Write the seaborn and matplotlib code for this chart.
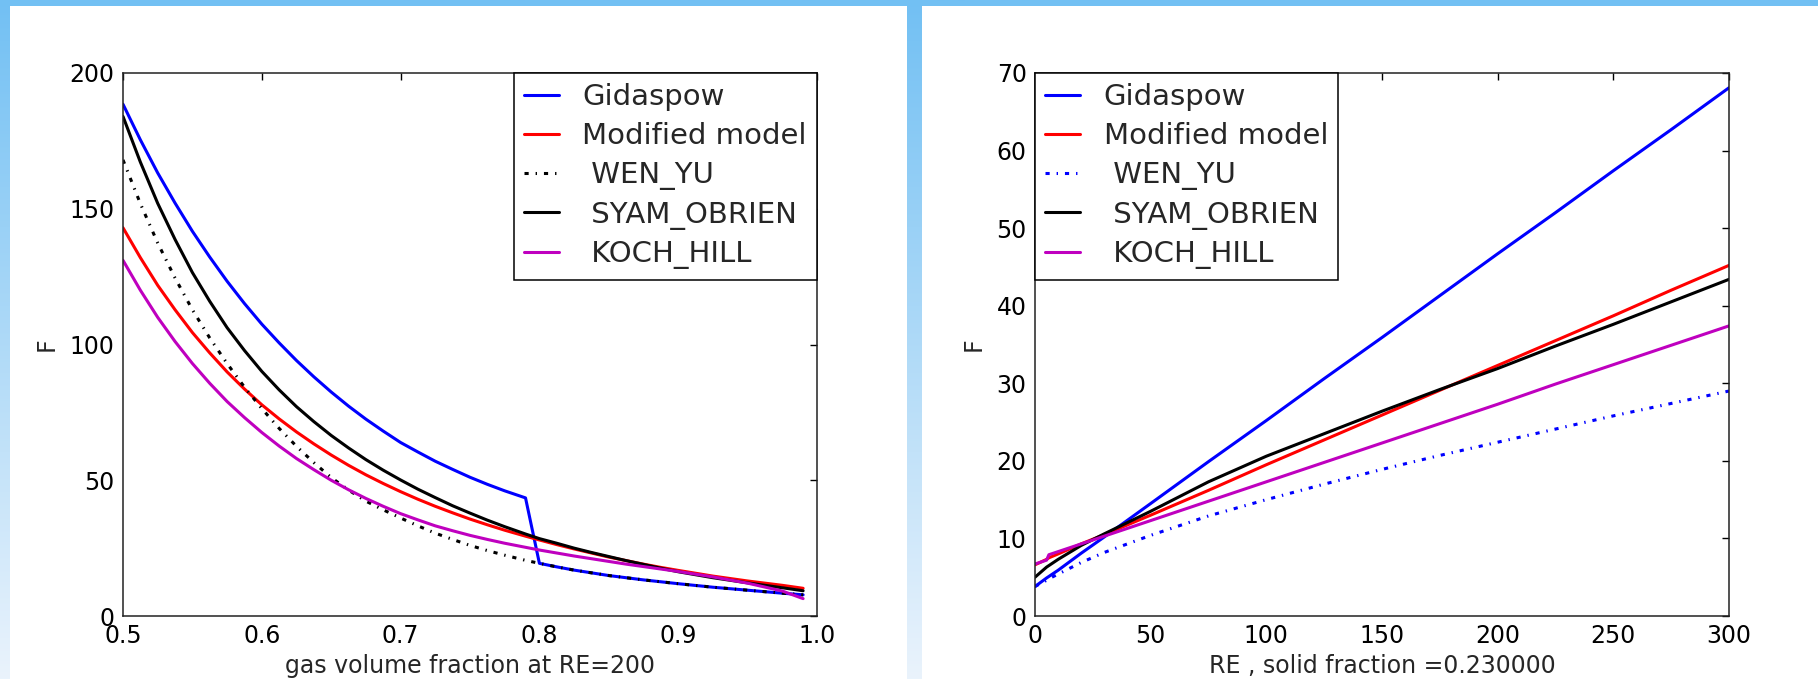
import numpy as np
import matplotlib
matplotlib.use("Agg")
import matplotlib.pyplot as plt
from matplotlib.patches import Rectangle
import seaborn as sns

# ---- left panel: F against gas volume fraction at RE=200 ----
eps = [0.5, 0.5125, 0.525, 0.5375, 0.55, 0.5625, 0.575, 0.5875, 0.6, 0.6125,
       0.625, 0.6375, 0.65, 0.6625, 0.675, 0.6875, 0.7, 0.7125, 0.725, 0.7375,
       0.75, 0.7625, 0.775, 0.79, 0.8, 0.8125, 0.825, 0.8375, 0.85, 0.8625,
       0.875, 0.8875, 0.9, 0.925, 0.95, 0.975, 0.99]
gidaspow_eps = [188.5, 175.4, 163.2, 152.1, 141.7, 132.2, 123.3, 115.1, 107.5, 100.6,
                94.1, 88.1, 82.5, 77.3, 72.5, 68.1, 63.9, 60.4, 57.0, 54.0,
                51.1, 48.5, 46.1, 43.5, 19.4, 18.1, 16.9, 15.9, 14.9, 14.1,
                13.3, 12.6, 11.9, 10.6, 9.5, 8.4, 7.8]
modified_eps = [143, 132.0, 121.8, 112.8, 104.4, 96.9, 89.9, 83.6, 77.8, 72.6,
                67.8, 63.4, 59.3, 55.5, 52.0, 48.8, 45.8, 43.0, 40.4, 38.0,
                35.7, 33.6, 31.6, 29.4, 28.0, 26.3, 24.7, 23.2, 21.7, 20.4,
                19.1, 17.9, 16.8, 14.7, 12.9, 11.3, 10.2]
wen_yu_eps = [168, 151.9, 137.4, 124.5, 112.8, 102.4, 93.0, 84.3, 76.4, 69.1,
              62.5, 56.5, 51.0, 46.4, 42.3, 39.1, 36.1, 33.2, 30.5, 28.2,
              26.0, 24.1, 22.4, 20.5, 19.4, 18.1, 16.9, 15.9, 14.9, 14.1,
              13.3, 12.6, 11.9, 10.6, 9.5, 8.4, 7.8]
syam_eps = [184, 167.2, 152.0, 138.7, 126.5, 115.9, 106.2, 97.8, 90.1, 83.3,
            77.1, 71.6, 66.5, 61.9, 57.6, 53.7, 50.1, 46.7, 43.6, 40.6,
            37.9, 35.3, 32.9, 30.2, 28.5, 26.8, 25.0, 23.4, 21.9, 20.4,
            19.0, 17.6, 16.3, 14.1, 12.2, 10.4, 9.3]
koch_eps = [131, 120.0, 110.0, 101.1, 93.0, 85.7, 79.0, 73.1, 67.6, 62.6,
            58.0, 53.9, 50.0, 46.5, 43.3, 40.4, 37.7, 35.4, 33.2, 31.4,
            29.7, 28.2, 26.8, 25.3, 24.3, 23.2, 22.1, 21.1, 20.1, 19.1,
            18.2, 17.3, 16.4, 14.4, 12.1, 9.2, 6.4]

# ---- right panel: F against RE at solid fraction 0.23 ----
re = [0, 5, 6, 10, 20, 30, 50, 75, 100, 125, 150, 175, 200, 225, 250, 275, 300]
gidaspow_re = [3.8, 4.9, 5.1, 5.9, 8.1, 10.2, 14.5, 19.9, 25.2, 30.6, 35.9,
               41.3, 46.7, 52.0, 57.4, 62.7, 68.1]
modified_re = [6.6, 7.3, 7.5, 8.0, 9.3, 10.5, 13.0, 16.2, 19.5, 22.7, 25.9,
               29.1, 32.3, 35.5, 38.7, 42.0, 45.2]
wen_yu_re = [3.8, 4.6, 4.8, 5.4, 6.9, 8.2, 10.4, 12.9, 15.0, 17.0, 18.9,
             20.7, 22.4, 24.1, 25.8, 27.4, 29.0]
syam_re = [5.0, 6.3, 6.5, 7.3, 9.1, 10.6, 13.5, 17.3, 20.6, 23.5, 26.4,
           29.2, 31.9, 34.8, 37.6, 40.5, 43.4]
koch_re = [6.7, 7.2, 7.9, 8.3, 9.3, 10.3, 12.3, 14.8, 17.3, 19.8, 22.3,
           24.8, 27.3, 29.9, 32.4, 34.9, 37.4]

labels = ["Gidaspow", "Modified model", " WEN_YU", " SYAM_OBRIEN", " KOCH_HILL"]

sns.set_theme(style="white")
plt.rcParams["font.family"] = ["DejaVu Sans"]
plt.rcParams["lines.scale_dashes"] = False

W, H = 1818, 679
fig = plt.figure(figsize=(W / 100, H / 100), dpi=100)

# page background: vertical blue gradient with two white panels
bg = fig.add_axes([0, 0, 1, 1], zorder=-10)
top = np.array([114, 192, 243]) / 255
bot = np.array([234, 243, 252]) / 255
t = np.linspace(0, 1, 256)[:, None]
grad = (top[None, :] * (1 - t) + bot[None, :] * t)[:, None, :]
bg.imshow(grad, extent=(0, W, H, 0), aspect="auto", interpolation="bilinear")
bg.add_patch(Rectangle((10, 6), 897, H - 6, color="white", lw=0))
bg.add_patch(Rectangle((922, 6), W - 922, H - 6, color="white", lw=0))
bg.set_xlim(0, W)
bg.set_ylim(H, 0)
bg.axis("off")

ax_w = 694 / W
ax_h = 543 / H
ax_b = (H - 616) / H
ax1 = fig.add_axes([123 / W, ax_b, ax_w, ax_h])
ax2 = fig.add_axes([1035 / W, ax_b, ax_w, ax_h])

dashdot = (0, (3, 5, 1, 5))
lw = 2.2
BLUE, RED, BLACK, MAGENTA = "#0000ff", "#ff0000", "#000000", "#bf00bf"


def draw(ax, x, series, wen_color):
    styles = [(BLUE, "-"), (RED, "-"), (wen_color, dashdot), (BLACK, "-"), (MAGENTA, "-")]
    for y, lab, (c, ls) in zip(series, labels, styles):
        sns.lineplot(x=x, y=y, ax=ax, color=c, linestyle=ls, linewidth=lw,
                     label=lab, legend=False)


draw(ax1, eps, [gidaspow_eps, modified_eps, wen_yu_eps, syam_eps, koch_eps], BLACK)
draw(ax2, re, [gidaspow_re, modified_re, wen_yu_re, syam_re, koch_re], BLUE)

ax1.set_xlim(0.5, 1.0)
ax1.set_ylim(0, 200)
ax1.set_xticks([0.5, 0.6, 0.7, 0.8, 0.9, 1.0])
ax1.set_xticklabels(["0.5", "0.6", "0.7", "0.8", "0.9", "1.0"])
ax1.set_yticks([0, 50, 100, 150, 200])
ax1.set_xlabel("gas volume fraction at RE=200")

ax2.set_xlim(0, 300)
ax2.set_ylim(0, 70)
ax2.set_xticks([0, 50, 100, 150, 200, 250, 300])
ax2.set_yticks([0, 10, 20, 30, 40, 50, 60, 70])
ax2.set_xlabel("RE , solid fraction =0.230000")

for ax, loc in ((ax1, "upper right"), (ax2, "upper left")):
    ax.set_facecolor("white")
    ax.set_ylabel("F", fontsize=17, labelpad=8)
    ax.xaxis.label.set_size(17)
    ax.tick_params(direction="in", top=True, right=True, length=5, width=1,
                   pad=6, labelsize=17, colors="black")
    for sp in ax.spines.values():
        sp.set_color("#222222")
        sp.set_linewidth(1.1)
    leg = ax.legend(loc=loc, borderaxespad=0, fancybox=False, framealpha=1,
                    edgecolor="black", fontsize=21, handlelength=1.2,
                    handletextpad=0.8, labelspacing=0.37, borderpad=0.35)
    leg.get_frame().set_linewidth(1.1)

fig.savefig("out.png", dpi=100)
